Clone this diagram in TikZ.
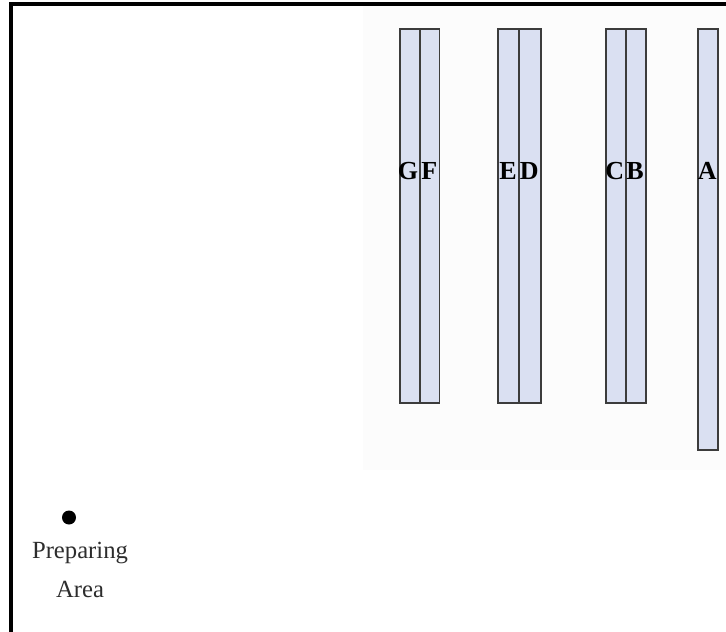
\documentclass[tikz,border=0pt]{standalone}
\usepackage{fontspec}
\usetikzlibrary{fit}
\setmainfont{Liberation Serif}
\definecolor{rackfill}{RGB}{218,224,242}
\definecolor{rackline}{RGB}{60,60,60}
\definecolor{txtgray}{RGB}{45,45,45}
\definecolor{panel}{RGB}{252,252,252}
\begin{document}
\begin{tikzpicture}[x=0.75pt,y=-0.75pt,
  rack/.style={draw=rackline,fill=rackfill,line width=1.3pt,inner sep=0pt,outer sep=0pt},
  racklabel/.style={anchor=west,inner sep=0pt,font=\fontsize{19.5}{19.5}\selectfont\bfseries},
  areatext/.style={align=center,text=txtgray,font=\fontsize{18.5}{29.5}\selectfont}]
\useasboundingbox (0,0) rectangle (726,632);
% faint background panel
\fill[panel] (363,5) rectangle (726,470);
% outer frame (top and left)
\draw[line width=2.3pt,line cap=rect] (11,632) -- (11,4) -- (726,4);
% racks
\node[rack,fit={(400,29) (420,403)}] (G) {};
\node[rack,fit={(420,29) (439.5,403)}] (F) {};
\node[rack,fit={(498,29) (519,403)}] (E) {};
\node[rack,fit={(519,29) (541,403)}] (D) {};
\node[rack,fit={(606,29) (626,403)}] (C) {};
\node[rack,fit={(626,29) (646,403)}] (B) {};
\node[rack,fit={(698,29) (718,450)}] (A) {};
% labels
\node[racklabel] (lG) at (397.5,171) {G};
\node[racklabel] (lF) at (421,171) {F};
\node[racklabel] (lE) at (499,171) {E};
\node[racklabel] (lD) at (519.5,171) {D};
\node[racklabel] (lC) at (605,171) {C};
\node[racklabel] (lB) at (626,171) {B};
\node[racklabel] (lA) at (697.5,171) {A};
% preparing area
\fill (69,517.5) circle (7);
\node[areatext] (prep) at (80,570) {Preparing\\Area};
\end{tikzpicture}
\end{document}
